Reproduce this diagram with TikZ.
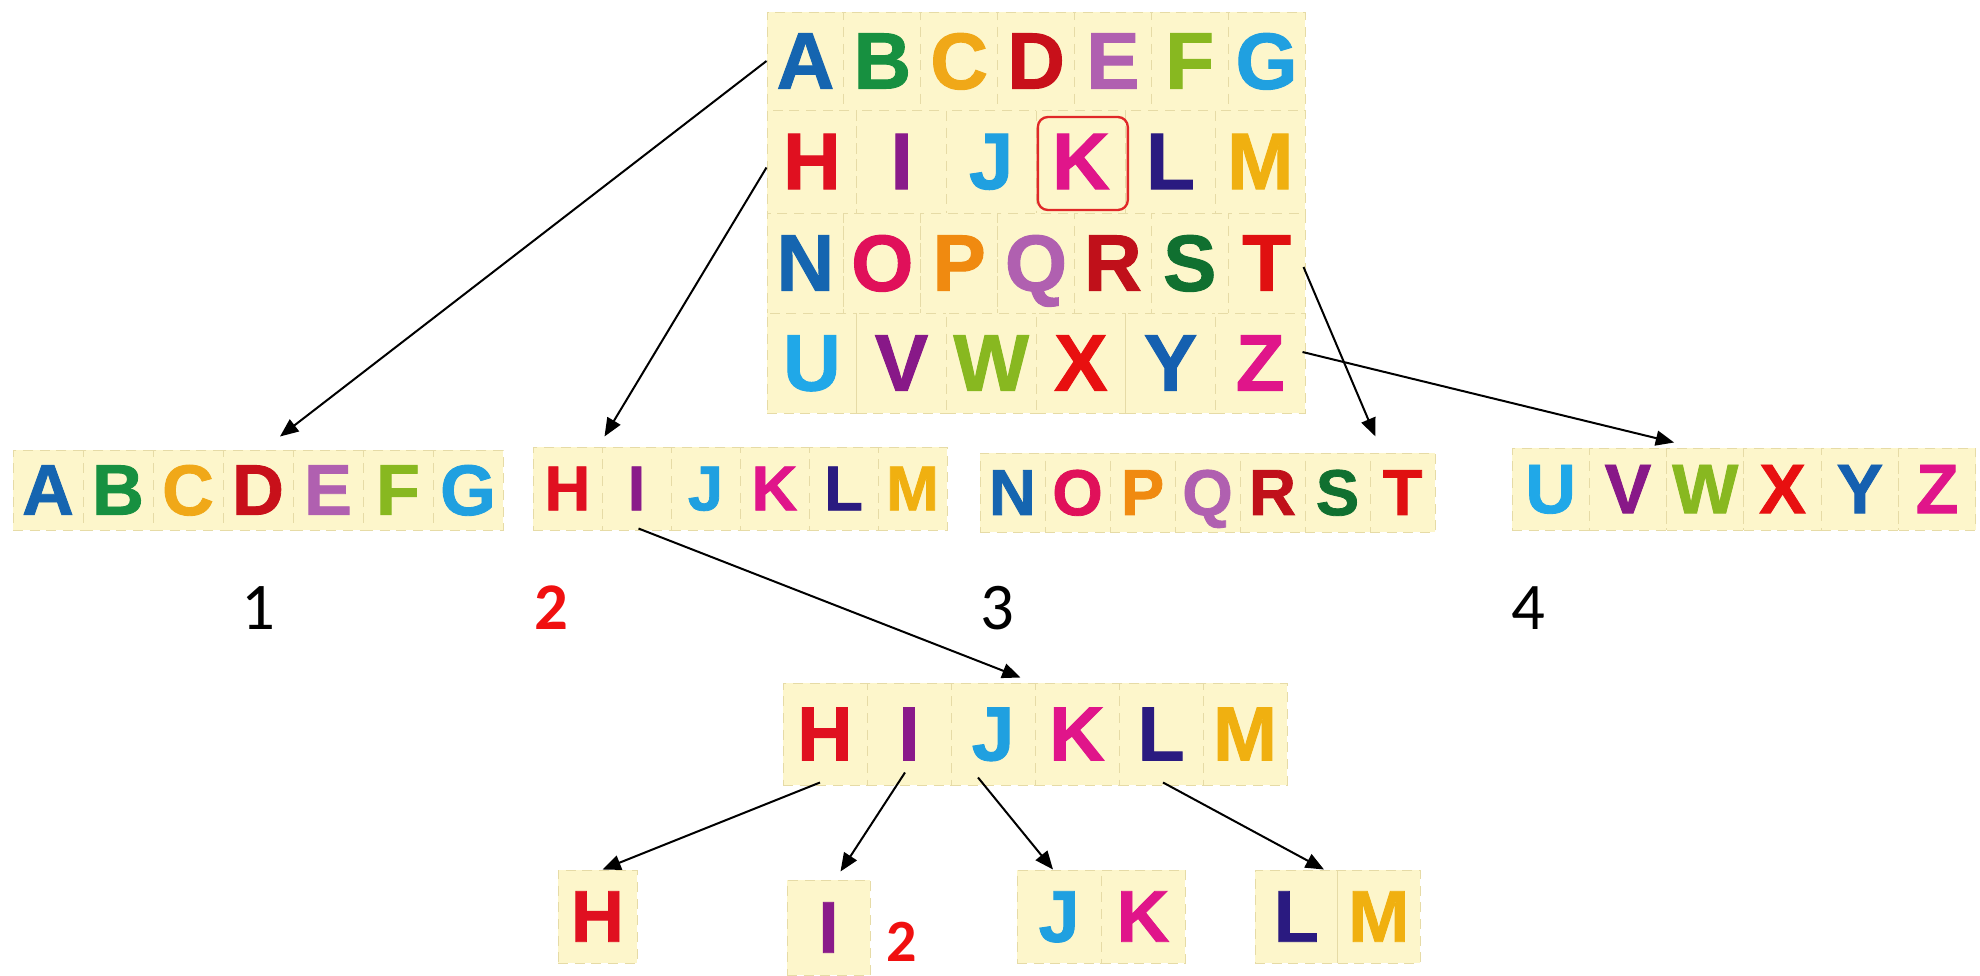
\documentclass[tikz,border=0pt]{standalone}
\usepackage{fontspec}
\usetikzlibrary{arrows.meta,calc}
\newfontfamily\letterfont{Liberation Sans}[BoldFeatures={FakeBold=1.2}]
\newfontfamily\numfont{Carlito}
\definecolor{cellbg}{HTML}{FDF6CB}
\definecolor{cellline}{HTML}{E6DBA6}
\definecolor{kred}{HTML}{E02828}
\definecolor{numred}{HTML}{F01010}
\definecolor{cA}{HTML}{1565B0}
\definecolor{cB}{HTML}{179040}
\definecolor{cC}{HTML}{F0A818}
\definecolor{cD}{HTML}{C8101A}
\definecolor{cE}{HTML}{B060B0}
\definecolor{cF}{HTML}{88B820}
\definecolor{cG}{HTML}{20A0E0}
\definecolor{cH}{HTML}{E01020}
\definecolor{cI}{HTML}{8A1A8A}
\definecolor{cJ}{HTML}{20A0E0}
\definecolor{cK}{HTML}{E0158A}
\definecolor{cL}{HTML}{2A1A80}
\definecolor{cM}{HTML}{F0B010}
\definecolor{cN}{HTML}{1565B0}
\definecolor{cO}{HTML}{E0105A}
\definecolor{cP}{HTML}{F08A10}
\definecolor{cQ}{HTML}{B060B0}
\definecolor{cR}{HTML}{C0101A}
\definecolor{cS}{HTML}{107030}
\definecolor{cT}{HTML}{E01010}
\definecolor{cU}{HTML}{20A8E8}
\definecolor{cV}{HTML}{881888}
\definecolor{cW}{HTML}{88B820}
\definecolor{cX}{HTML}{E81010}
\definecolor{cY}{HTML}{1560B0}
\definecolor{cZ}{HTML}{E0158A}
\tikzset{
  cell/.style={draw=cellline, fill=cellbg, densely dashed, line width=0.3pt,
    inner sep=0pt, text depth=0pt},
  conn/.style={draw=black, line width=0.6pt, -{Triangle[length=5.5pt,width=4.5pt]}},
  kbox/.style={draw=kred, rounded corners=3pt, line width=0.7pt, inner sep=0pt},
  numlbl/.style={font=\numfont\fontsize{20pt}{20pt}\selectfont, inner sep=0pt},
}
% #1 name, #2 x0, #3 y0, #4 cell width, #5 cell height, #6 font size, #7 letters/colours
\newcommand\cellrow[7]{%
  \foreach \L/\C [count=\i] in {#7} {%
    \node[cell, minimum width=#4*0.3pt, minimum height=#5*0.3pt, text=\C,
      font=\letterfont\bfseries\fontsize{#6}{#6}\selectfont]
      (#1-\i) at ({#2+(\i-0.5)*#4},{#3+#5/2}) {\L};
  }%
}
\begin{document}
\begin{tikzpicture}[x=0.3pt, y=-0.3pt]
\useasboundingbox[fill=white] (0,0) rectangle (1980,976);
% top grid
\cellrow{g1}{767}{12}{76.86}{98}{24pt}{A/cA,B/cB,C/cC,D/cD,E/cE,F/cF,G/cG}
\cellrow{g2}{767}{110}{89.67}{103}{24pt}{H/cH,I/cI,J/cJ,K/cK,L/cL,M/cM}
\cellrow{g3}{767}{213}{76.86}{100}{24pt}{N/cN,O/cO,P/cP,Q/cQ,R/cR,S/cS,T/cT}
\cellrow{g4}{767}{313}{89.67}{100}{24pt}{U/cU,V/cV,W/cW,X/cX,Y/cY,Z/cZ}
\node[kbox, minimum width=90*0.3pt, minimum height=93*0.3pt] (kb) at ($(g2-4.center)+(2,2)$) {};
% strips
\cellrow{r1}{13}{450}{70}{80}{21.5pt}{A/cA,B/cB,C/cC,D/cD,E/cE,F/cF,G/cG}
\cellrow{r2}{533}{447}{69}{83}{19pt}{H/cH,I/cI,J/cJ,K/cK,L/cL,M/cM}
\cellrow{r3}{980}{453}{65}{79}{19.5pt}{N/cN,O/cO,P/cP,Q/cQ,R/cR,S/cS,T/cT}
\cellrow{r4}{1512}{448}{77.3}{82}{21pt}{U/cU,V/cV,W/cW,X/cX,Y/cY,Z/cZ}
% middle row
\cellrow{m}{783}{683}{84}{102}{23pt}{H/cH,I/cI,J/cJ,K/cK,L/cL,M/cM}
% singles
\cellrow{s1}{558}{870}{79}{93}{22pt}{H/cH}
\cellrow{s2}{787}{880}{83}{95}{22pt}{I/cI}
\cellrow{s3}{1017}{870}{84}{93}{22pt}{J/cJ,K/cK}
\cellrow{s4}{1255}{870}{82.5}{93}{22pt}{L/cL,M/cM}
% labels
\node[numlbl] (n1) at (258,608) {1};
\node[numlbl, text=numred, font=\numfont\bfseries\fontsize{20pt}{20pt}\selectfont] (n2) at (551,608) {2};
\node[numlbl] (n3) at (997,608) {3};
\node[numlbl] (n4) at (1528,608) {4};
\node[numlbl, text=numred, font=\numfont\bfseries\fontsize{18pt}{18pt}\selectfont] (n5) at (902,942) {2};
% connectors
\draw[conn] (g1-1.west) -- ($(r1-4.north)+(22,-13)$);
\draw[conn] ($(g2-1.west)+(0,6)$) -- ($(r2-2.north west)+(3,-10)$);
\draw[conn] ($(g3-7.east)+(-2,4)$) -- ($(r3-7.north)+(-27,-16)$);
\draw[conn] ($(g4-6.east)+(-3,-11)$) -- ($(r4-3.north west)+(8,-5)$);
\draw[conn] ($(r2-2.south)+(2,-2)$) -- ($(m-3.north east)+(-15,-5)$);
\draw[conn] ($(m-1.south)+(-5,-3)$) -- ($(s1-1.north)+(5,0)$);
\draw[conn] ($(m-2.south)+(-4,-13)$) -- ($(s2-1.north)+(12,-8)$);
\draw[conn] ($(m-3.south)+(-15,-8)$) -- ($(s3-1.north)+(-6,0)$);
\draw[conn] ($(m-5.south)+(2,-3)$) -- ($(s4-1.north east)+(-14,0)$);
\end{tikzpicture}
\end{document}
